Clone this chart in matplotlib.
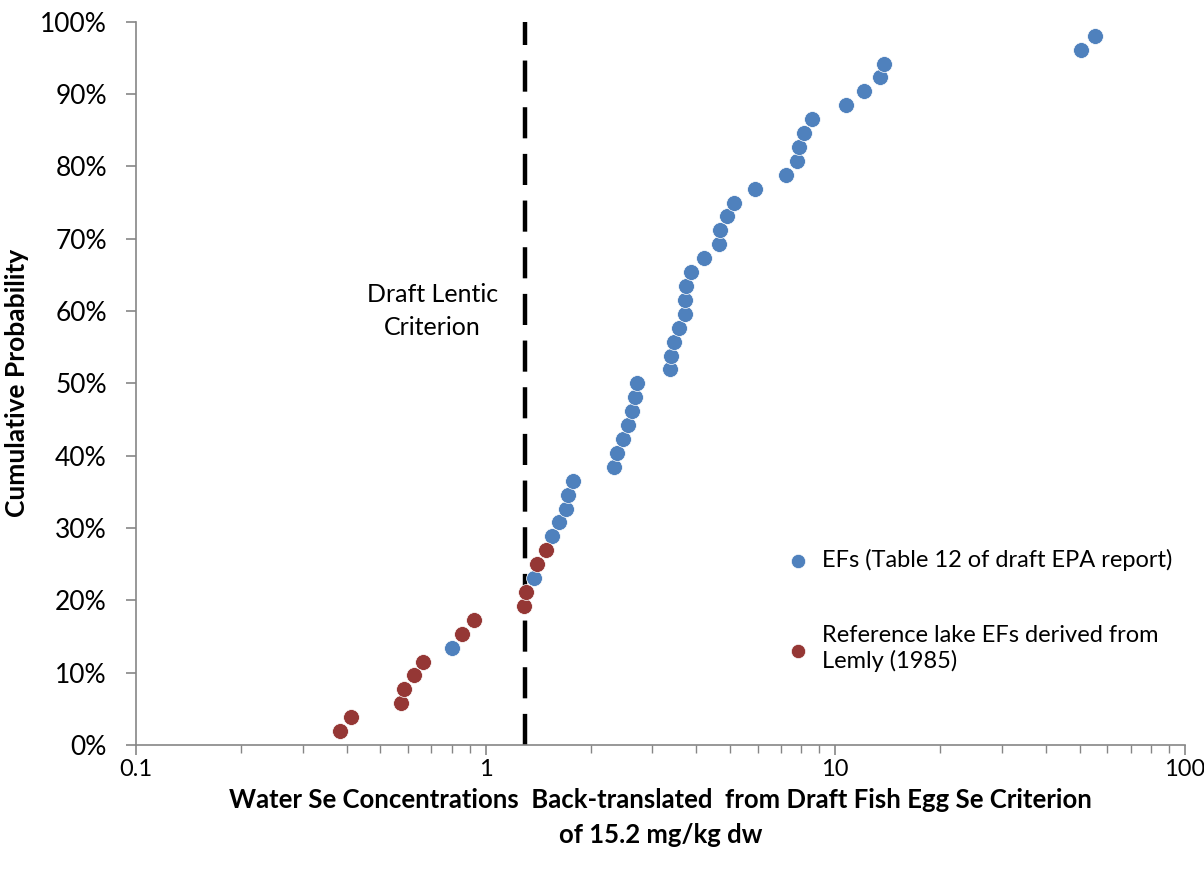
import matplotlib.pyplot as plt
from matplotlib.ticker import FixedLocator, LogLocator, NullFormatter, PercentFormatter

plt.rcParams['font.family'] = ['Lato', 'DejaVu Sans']

# EFs from Table 12 of the draft EPA report
ef_conc = [0.803, 1.374, 1.553, 1.624, 1.693, 1.723, 1.773, 2.33, 2.38, 2.47,
           2.56, 2.63, 2.68, 2.71, 3.37, 3.38, 3.45, 3.58, 3.71, 3.71,
           3.75, 3.86, 4.22, 4.66, 4.67, 4.91, 5.13, 5.91, 7.24, 7.77,
           7.89, 8.17, 8.61, 10.75, 12.10, 13.45, 13.77, 50.6, 55.3]
ef_prob = [13.46, 23.08, 28.85, 30.77, 32.69, 34.62, 36.54, 38.46, 40.38, 42.31,
           44.23, 46.15, 48.08, 50.00, 51.92, 53.85, 55.77, 57.69, 59.62, 61.54,
           63.46, 65.38, 67.31, 69.23, 71.15, 73.08, 75.00, 76.92, 78.85, 80.77,
           82.69, 84.62, 86.54, 88.46, 90.38, 92.31, 94.23, 96.15, 98.08]

# reference lake EFs (Lemly 1985)
ref_conc = [0.382, 0.412, 0.572, 0.583, 0.623, 0.662, 0.854, 0.924, 1.284, 1.304,
            1.401, 1.484]
ref_prob = [1.92, 3.85, 5.77, 7.69, 9.62, 11.54, 15.38, 17.31, 19.23, 21.15,
            25.00, 26.92]

criterion = 1.3

blue = '#4F81BD'
red = '#953735'
gray = '#868686'

fig = plt.figure(figsize=(12.04, 8.71), dpi=100)
ax = fig.add_axes([0.113, 0.1447, 0.871, 0.8303])

ax.scatter(ef_conc, ef_prob, s=130, color=blue, edgecolors='white', linewidths=0.5,
           zorder=3, label='EFs (Table 12 of draft EPA report)')
ax.scatter(ref_conc, ref_prob, s=130, color=red, edgecolors='white', linewidths=0.5,
           zorder=3, label='Reference lake EFs derived from\nLemly (1985)')

ax.plot([criterion, criterion], [0, 100], color='black', lw=3.2,
        linestyle=(0, (7, 3.5)), zorder=2)
ax.text(0.705, 60, 'Draft Lentic\nCriterion', ha='center', va='center',
        fontsize=18, linespacing=1.55)

ax.set_xscale('log')
ax.set_xlim(0.1, 100)
ax.set_ylim(0, 100)
ax.xaxis.set_major_locator(FixedLocator([0.1, 1, 10, 100]))
ax.xaxis.set_minor_locator(LogLocator(base=10, subs=range(2, 10)))
ax.xaxis.set_minor_formatter(NullFormatter())
ax.set_xticklabels(['0.1', '1', '10', '100'])
ax.set_yticks(range(0, 101, 10))
ax.yaxis.set_major_formatter(PercentFormatter(decimals=0))

for side in ['top', 'right']:
    ax.spines[side].set_visible(False)
for side in ['left', 'bottom']:
    ax.spines[side].set_color(gray)
    ax.spines[side].set_linewidth(1.2)

ax.tick_params(axis='both', which='major', color=gray, length=7,
               width=1.2, direction='out')
ax.tick_params(axis='x', which='minor', color=gray, length=6, width=1.0, direction='out')
ax.tick_params(axis='x', which='major', pad=3, labelsize=17)
ax.tick_params(axis='y', which='major', pad=14, labelsize=19)

ax.set_xlabel('Water Se Concentrations  Back-translated  from Draft Fish Egg Se Criterion\nof 15.2 mg/kg dw',
              fontsize=18.5, fontweight='bold', labelpad=6, linespacing=1.55)
ax.set_ylabel('Cumulative Probability', fontsize=19, fontweight='bold', labelpad=8)

ax.legend(loc='upper left', bbox_to_anchor=(0.6, 0.284), frameon=False,
          fontsize=17, handletextpad=0.0, labelspacing=2.3, markerscale=0.9,
          borderaxespad=0)

fig.savefig('out.png', dpi=100)
